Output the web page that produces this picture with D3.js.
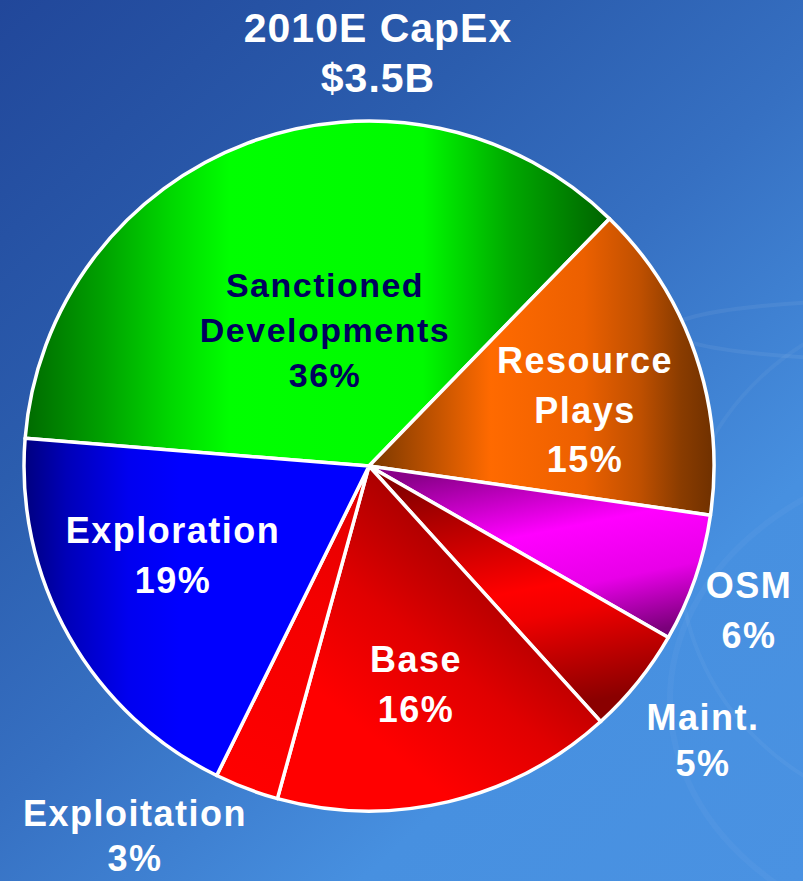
<!DOCTYPE html>
<html><head><meta charset="utf-8">
<script src="https://d3js.org/d3.v7.min.js"></script>
<style>html,body{margin:0;padding:0;background:#2f64b4;}svg{display:block;}</style>
</head><body>
<svg id="chart" width="803" height="881"></svg>
<script>
// ---- data ----
const categories = ["Sanctioned Developments", "Resource Plays", "OSM", "Maint.", "Base", "Exploitation", "Exploration"];
const values = [36, 15, 6, 5, 16, 3, 19];
const labelLines = [
  ["Sanctioned", "Developments", "36%"],
  ["Resource", "Plays", "15%"],
  ["OSM", "6%"],
  ["Maint.", "5%"],
  ["Base", "16%"],
  ["Exploitation", "3%"],
  ["Exploration", "19%"]
];
const titleLines = ["2010E CapEx", "$3.5B"];

// ---- layout / style ----
const W = 803, H = 881;
const cx = 369, cy = 466, R = 345;
const startDeg = -85.4;
const labelPos = [
  {x: 325, y: 297, dy: 45, color: "#00005e", size: 34},
  {x: 585, y: 373, dy: 49.5, color: "#ffffff", size: 36},
  {x: 749, y: 598, dy: 50, color: "#ffffff", size: 36},
  {x: 703, y: 730, dy: 46, color: "#ffffff", size: 36},
  {x: 416, y: 672, dy: 50, color: "#ffffff", size: 36},
  {x: 135, y: 826, dy: 45, color: "#ffffff", size: 36},
  {x: 173, y: 543, dy: 50, color: "#ffffff", size: 36}
];
const grads = [
  {x1: 25, y1: 0, x2: 610, y2: 0, stops: [[0,"#006a00"],[0.13,"#00a000"],[0.25,"#00d800"],[0.35,"#00ff00"],[0.68,"#00fa00"],[0.83,"#00a800"],[1,"#006200"]]},
  {x1: 370, y1: 0, x2: 715, y2: 0, stops: [[0,"#7a3800"],[0.35,"#ff6a00"],[0.62,"#ec6000"],[0.78,"#c05000"],[0.9,"#8a3c00"],[1,"#6e3000"]]},
  {x1: 400, y1: 480, x2: 439, y2: 674, stops: [[0,"#8a008a"],[0.4,"#ff00ff"],[0.7,"#e800e8"],[1,"#7a007a"]]},
  {x1: 400, y1: 490, x2: 448, y2: 730, stops: [[0,"#8a0000"],[0.5,"#ff0000"],[0.62,"#f00000"],[1,"#8a0000"]]},
  {x1: 520, y1: 520, x2: 300, y2: 790, stops: [[0,"#900000"],[0.45,"#e00000"],[0.75,"#ff0000"],[1,"#ff0000"]]},
  {x1: 215, y1: 790, x2: 370, y2: 470, stops: [[0,"#ff0000"],[0.6,"#f40000"],[1,"#e00000"]]},
  {x1: 25, y1: 0, x2: 370, y2: 0, stops: [[0,"#000080"],[0.12,"#0000b8"],[0.3,"#0000f0"],[0.45,"#0000ff"],[1,"#0000ff"]]}
];

const svg = d3.select("#chart");
const defs = svg.append("defs");

// background
const bg = defs.append("linearGradient").attr("id", "bg")
  .attr("gradientUnits", "userSpaceOnUse")
  .attr("x1", 0).attr("y1", 0).attr("x2", W).attr("y2", H);
[[0,"#21479a"],[0.3,"#2b5dae"],[0.5,"#3670c2"],[0.75,"#4790e0"],[1,"#4a92e2"]]
  .forEach(s => bg.append("stop").attr("offset", s[0]).attr("stop-color", s[1]));
svg.append("rect").attr("width", W).attr("height", H).attr("fill", "url(#bg)");

// faint decorative swooshes
const sw = svg.append("g").attr("fill", "none").attr("stroke", "#ffffff");
sw.append("ellipse").attr("cx", 900).attr("cy", 330).attr("rx", 230).attr("ry", 30)
  .attr("stroke-opacity", 0.06).attr("stroke-width", 4);
sw.append("ellipse").attr("cx", 960).attr("cy", 560).attr("rx", 280).attr("ry", 260)
  .attr("stroke-opacity", 0.045).attr("stroke-width", 4);
sw.append("ellipse").attr("cx", 1000).attr("cy", 700).attr("rx", 330).attr("ry", 250)
  .attr("stroke-opacity", 0.035).attr("stroke-width", 6);

// slice gradients (page coordinates, mapped into the centred pie space)
grads.forEach((g, i) => {
  const lg = defs.append("linearGradient").attr("id", "g" + i)
    .attr("gradientUnits", "userSpaceOnUse")
    .attr("gradientTransform", `translate(${-cx},${-cy})`)
    .attr("x1", g.x1).attr("y1", g.y1).attr("x2", g.x2).attr("y2", g.y2);
  g.stops.forEach(s => lg.append("stop").attr("offset", s[0]).attr("stop-color", s[1]));
});

const toRad = d => d * Math.PI / 180;
const pie = d3.pie().sort(null).value(d => d)
  .startAngle(toRad(startDeg)).endAngle(toRad(startDeg + 360));
const arc = d3.arc().innerRadius(0).outerRadius(R);

const g = svg.append("g");
g.selectAll("path").data(pie(values)).join("path")
  .attr("d", arc)
  .attr("transform", `translate(${cx},${cy})`)
  .attr("fill", (d, i) => `url(#g${i})`)
  .attr("stroke", "#ffffff").attr("stroke-width", 3.5).attr("stroke-linejoin", "round");

// title
const font = "'Liberation Sans', Arial, Helvetica, sans-serif";
svg.append("g").selectAll("text").data(titleLines).join("text")
  .attr("x", 378).attr("y", (d, i) => 42 + i * 50)
  .attr("text-anchor", "middle")
  .attr("font-family", font).attr("font-weight", "bold").attr("font-size", 41)
  .attr("letter-spacing", 1)
  .attr("fill", "#ffffff").text(d => d);

// labels
const lab = svg.append("g");
labelLines.forEach((lines, i) => {
  const p = labelPos[i];
  lab.append("g").selectAll("text").data(lines).join("text")
    .attr("x", p.x).attr("y", (d, j) => p.y + j * p.dy)
    .attr("text-anchor", "middle")
    .attr("font-family", font).attr("font-weight", "bold").attr("font-size", p.size)
    .attr("letter-spacing", 1.5)
    .attr("fill", p.color).text(d => d);
});
</script>
</body></html>
